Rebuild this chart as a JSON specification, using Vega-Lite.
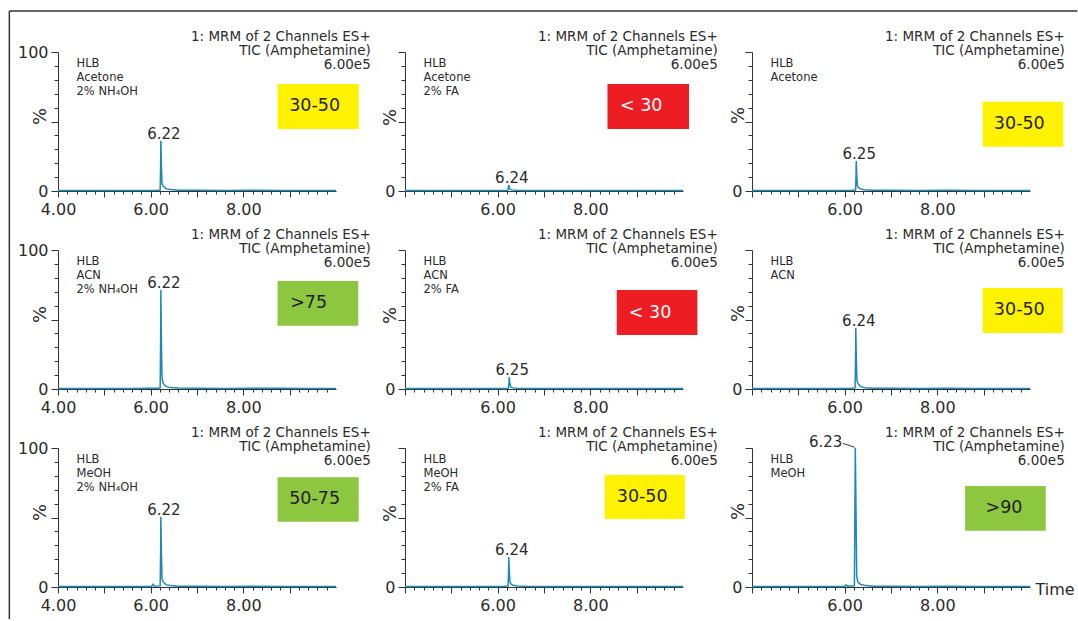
{
  "$schema": "https://vega.github.io/schema/vega-lite/v6.json",
  "background": "white",
  "padding": {"left": 8, "top": 10, "right": 0, "bottom": 0},
  "bounds": "flush",
  "columns": 3,
  "spacing": {"row": 59, "column": 69},
  "config": {
    "font": "DejaVu Sans",
    "view": {"stroke": null},
    "axis": {
      "grid": false, "domainColor": "#333333", "domainWidth": 1, "tickColor": "#333333", "tickWidth": 1,
      "labelFont": "DejaVu Sans", "labelFontSize": 16, "labelColor": "#2b2b2b", "labelFlush": false, "labelOverlap": false,
      "titleFont": "DejaVu Sans", "titleFontWeight": "normal", "titleColor": "#2b2b2b", "titleFontSize": 18
    },
    "text": {"font": "DejaVu Sans", "color": "#2b2b2b"}
  },
  "datasets": {
    "trace": [
      {"p":1,"t":4.00,"v":0.4},{"p":1,"t":4.40,"v":0.3},{"p":1,"t":4.80,"v":0.4},{"p":1,"t":5.20,"v":0.3},{"p":1,"t":5.60,"v":0.4},{"p":1,"t":5.95,"v":0.4},{"p":1,"t":6.15,"v":0.5},{"p":1,"t":6.205,"v":0.7},{"p":1,"t":6.215,"v":18},{"p":1,"t":6.22,"v":36.2},{"p":1,"t":6.23,"v":20},{"p":1,"t":6.245,"v":5},{"p":1,"t":6.27,"v":3.5},{"p":1,"t":6.30,"v":2.6},{"p":1,"t":6.34,"v":1.5},{"p":1,"t":6.42,"v":1.0},{"p":1,"t":6.60,"v":0.6},{"p":1,"t":7.00,"v":0.5},{"p":1,"t":7.60,"v":0.4},{"p":1,"t":8.20,"v":0.5},{"p":1,"t":8.80,"v":0.4},{"p":1,"t":9.40,"v":0.4},{"p":1,"t":10.00,"v":0.4},
      {"p":2,"t":4.00,"v":0.4},{"p":2,"t":4.40,"v":0.3},{"p":2,"t":4.80,"v":0.4},{"p":2,"t":5.20,"v":0.3},{"p":2,"t":5.60,"v":0.4},{"p":2,"t":5.95,"v":0.4},{"p":2,"t":6.15,"v":0.4},{"p":2,"t":6.22,"v":0.6},{"p":2,"t":6.24,"v":4.3},{"p":2,"t":6.26,"v":1.6},{"p":2,"t":6.30,"v":0.8},{"p":2,"t":6.40,"v":0.5},{"p":2,"t":6.60,"v":0.4},{"p":2,"t":7.00,"v":0.4},{"p":2,"t":7.60,"v":0.4},{"p":2,"t":8.20,"v":0.4},{"p":2,"t":8.80,"v":0.4},{"p":2,"t":9.40,"v":0.4},{"p":2,"t":10.00,"v":0.4},
      {"p":3,"t":4.00,"v":0.4},{"p":3,"t":4.40,"v":0.3},{"p":3,"t":4.80,"v":0.4},{"p":3,"t":5.20,"v":0.3},{"p":3,"t":5.60,"v":0.4},{"p":3,"t":5.95,"v":0.4},{"p":3,"t":6.15,"v":0.5},{"p":3,"t":6.235,"v":0.7},{"p":3,"t":6.245,"v":11},{"p":3,"t":6.25,"v":21.6},{"p":3,"t":6.26,"v":12},{"p":3,"t":6.275,"v":3.5},{"p":3,"t":6.30,"v":2.4},{"p":3,"t":6.34,"v":1.5},{"p":3,"t":6.42,"v":0.9},{"p":3,"t":6.60,"v":0.6},{"p":3,"t":7.00,"v":0.5},{"p":3,"t":7.60,"v":0.4},{"p":3,"t":8.20,"v":0.5},{"p":3,"t":8.80,"v":0.4},{"p":3,"t":9.40,"v":0.4},{"p":3,"t":10.00,"v":0.4},
      {"p":4,"t":4.00,"v":0.4},{"p":4,"t":4.40,"v":0.3},{"p":4,"t":4.80,"v":0.4},{"p":4,"t":5.20,"v":0.3},{"p":4,"t":5.60,"v":0.4},{"p":4,"t":5.95,"v":0.5},{"p":4,"t":6.15,"v":0.6},{"p":4,"t":6.205,"v":0.9},{"p":4,"t":6.215,"v":35},{"p":4,"t":6.22,"v":71.2},{"p":4,"t":6.23,"v":38},{"p":4,"t":6.245,"v":8},{"p":4,"t":6.27,"v":4.2},{"p":4,"t":6.30,"v":2.8},{"p":4,"t":6.34,"v":1.7},{"p":4,"t":6.42,"v":1.0},{"p":4,"t":6.60,"v":0.7},{"p":4,"t":7.00,"v":0.5},{"p":4,"t":7.60,"v":0.4},{"p":4,"t":8.20,"v":0.5},{"p":4,"t":8.80,"v":0.6},{"p":4,"t":9.40,"v":0.4},{"p":4,"t":10.00,"v":0.4},
      {"p":5,"t":4.00,"v":0.4},{"p":5,"t":4.40,"v":0.3},{"p":5,"t":4.80,"v":0.4},{"p":5,"t":5.20,"v":0.3},{"p":5,"t":5.60,"v":0.4},{"p":5,"t":5.95,"v":0.4},{"p":5,"t":6.15,"v":0.4},{"p":5,"t":6.23,"v":0.6},{"p":5,"t":6.245,"v":4.5},{"p":5,"t":6.25,"v":8.6},{"p":5,"t":6.26,"v":4.5},{"p":5,"t":6.28,"v":1.4},{"p":5,"t":6.32,"v":0.8},{"p":5,"t":6.42,"v":0.5},{"p":5,"t":6.60,"v":0.4},{"p":5,"t":7.00,"v":0.4},{"p":5,"t":7.60,"v":0.4},{"p":5,"t":8.20,"v":0.4},{"p":5,"t":8.80,"v":0.4},{"p":5,"t":9.40,"v":0.4},{"p":5,"t":10.00,"v":0.4},
      {"p":6,"t":4.00,"v":0.4},{"p":6,"t":4.40,"v":0.3},{"p":6,"t":4.80,"v":0.4},{"p":6,"t":5.20,"v":0.3},{"p":6,"t":5.60,"v":0.4},{"p":6,"t":5.95,"v":0.4},{"p":6,"t":6.15,"v":0.5},{"p":6,"t":6.225,"v":0.8},{"p":6,"t":6.235,"v":22},{"p":6,"t":6.24,"v":43.9},{"p":6,"t":6.25,"v":24},{"p":6,"t":6.265,"v":6},{"p":6,"t":6.29,"v":3.8},{"p":6,"t":6.32,"v":2.5},{"p":6,"t":6.36,"v":1.5},{"p":6,"t":6.44,"v":0.9},{"p":6,"t":6.60,"v":0.6},{"p":6,"t":7.00,"v":0.5},{"p":6,"t":7.60,"v":0.4},{"p":6,"t":8.20,"v":0.5},{"p":6,"t":8.80,"v":0.4},{"p":6,"t":9.40,"v":0.4},{"p":6,"t":10.00,"v":0.4},
      {"p":7,"t":4.00,"v":0.4},{"p":7,"t":4.40,"v":0.3},{"p":7,"t":4.80,"v":0.4},{"p":7,"t":5.20,"v":0.3},{"p":7,"t":5.60,"v":0.4},{"p":7,"t":5.95,"v":0.4},{"p":7,"t":6.02,"v":0.6},{"p":7,"t":6.05,"v":2.0},{"p":7,"t":6.08,"v":0.6},{"p":7,"t":6.205,"v":0.8},{"p":7,"t":6.215,"v":25},{"p":7,"t":6.22,"v":50.6},{"p":7,"t":6.23,"v":27},{"p":7,"t":6.245,"v":6},{"p":7,"t":6.27,"v":3.8},{"p":7,"t":6.30,"v":2.6},{"p":7,"t":6.34,"v":1.5},{"p":7,"t":6.42,"v":1.0},{"p":7,"t":6.60,"v":0.6},{"p":7,"t":7.00,"v":0.5},{"p":7,"t":7.60,"v":0.4},{"p":7,"t":8.20,"v":0.5},{"p":7,"t":8.80,"v":0.4},{"p":7,"t":9.40,"v":0.4},{"p":7,"t":10.00,"v":0.4},
      {"p":8,"t":4.00,"v":0.4},{"p":8,"t":4.40,"v":0.3},{"p":8,"t":4.80,"v":0.4},{"p":8,"t":5.20,"v":0.3},{"p":8,"t":5.60,"v":0.4},{"p":8,"t":5.95,"v":0.4},{"p":8,"t":6.15,"v":0.5},{"p":8,"t":6.225,"v":0.7},{"p":8,"t":6.235,"v":11},{"p":8,"t":6.24,"v":21.6},{"p":8,"t":6.25,"v":12},{"p":8,"t":6.265,"v":3.5},{"p":8,"t":6.29,"v":2.0},{"p":8,"t":6.33,"v":1.2},{"p":8,"t":6.42,"v":0.8},{"p":8,"t":6.60,"v":0.5},{"p":8,"t":7.00,"v":0.4},{"p":8,"t":7.60,"v":0.4},{"p":8,"t":8.20,"v":0.4},{"p":8,"t":8.80,"v":0.4},{"p":8,"t":9.40,"v":0.4},{"p":8,"t":10.00,"v":0.4},
      {"p":9,"t":4.00,"v":0.4},{"p":9,"t":4.40,"v":0.3},{"p":9,"t":4.80,"v":0.4},{"p":9,"t":5.20,"v":0.3},{"p":9,"t":5.60,"v":0.4},{"p":9,"t":5.95,"v":0.4},{"p":9,"t":6.00,"v":0.6},{"p":9,"t":6.03,"v":1.5},{"p":9,"t":6.06,"v":0.6},{"p":9,"t":6.21,"v":0.9},{"p":9,"t":6.22,"v":50},{"p":9,"t":6.23,"v":100},{"p":9,"t":6.245,"v":55},{"p":9,"t":6.26,"v":8},{"p":9,"t":6.28,"v":4.2},{"p":9,"t":6.31,"v":2.8},{"p":9,"t":6.35,"v":1.8},{"p":9,"t":6.45,"v":1.0},{"p":9,"t":6.60,"v":0.6},{"p":9,"t":7.00,"v":0.5},{"p":9,"t":7.60,"v":0.4},{"p":9,"t":8.20,"v":0.5},{"p":9,"t":8.80,"v":0.4},{"p":9,"t":9.40,"v":0.4},{"p":9,"t":10.00,"v":0.4}
    ],
    "peaks": [
      {"p":1,"t":6.22,"v":36.2,"label":"6.22"},
      {"p":2,"t":6.24,"v":4.3,"label":"6.24"},
      {"p":3,"t":6.25,"v":21.6,"label":"6.25"},
      {"p":4,"t":6.22,"v":71.2,"label":"6.22"},
      {"p":5,"t":6.25,"v":8.6,"label":"6.25"},
      {"p":6,"t":6.24,"v":43.9,"label":"6.24"},
      {"p":7,"t":6.22,"v":50.6,"label":"6.22"},
      {"p":8,"t":6.24,"v":21.6,"label":"6.24"},
      {"p":9,"t":6.23,"v":100,"label":"6.23"}
    ],
    "info": [
      {"p":1,"sample":["HLB","Acetone","2% NH₄OH"],"header":["1: MRM of 2 Channels ES+","TIC (Amphetamine)","6.00e5"]},
      {"p":2,"sample":["HLB","Acetone"," 2% FA"],"header":["1: MRM of 2 Channels ES+","TIC (Amphetamine)","6.00e5"]},
      {"p":3,"sample":["HLB","Acetone"],"header":["1: MRM of 2 Channels ES+","TIC (Amphetamine)","6.00e5"]},
      {"p":4,"sample":["HLB","ACN","2% NH₄OH"],"header":["1: MRM of 2 Channels ES+","TIC (Amphetamine)","6.00e5"]},
      {"p":5,"sample":["HLB","ACN"," 2% FA"],"header":["1: MRM of 2 Channels ES+","TIC (Amphetamine)","6.00e5"]},
      {"p":6,"sample":["HLB","ACN"],"header":["1: MRM of 2 Channels ES+","TIC (Amphetamine)","6.00e5"]},
      {"p":7,"sample":["HLB","MeOH","2% NH₄OH"],"header":["1: MRM of 2 Channels ES+","TIC (Amphetamine)","6.00e5"]},
      {"p":8,"sample":["HLB","MeOH","2% FA"],"header":["1: MRM of 2 Channels ES+","TIC (Amphetamine)","6.00e5"]},
      {"p":9,"sample":["HLB","MeOH"],"header":["1: MRM of 2 Channels ES+","TIC (Amphetamine)","6.00e5"]}
    ],
    "boxes": [
      {"p":1,"rng":"30-50","x1":8.74,"x2":10.49,"y1":77.0,"y2":44.6,"ym":60.8,"tx":8.99},
      {"p":2,"rng":"< 30","x1":8.37,"x2":10.13,"y1":77.0,"y2":44.6,"ym":60.8,"tx":8.64},
      {"p":3,"rng":"30-50","x1":8.98,"x2":10.72,"y1":64.2,"y2":31.9,"ym":48.1,"tx":9.22},
      {"p":4,"rng":">75","x1":8.74,"x2":10.48,"y1":77.7,"y2":45.5,"ym":61.6,"tx":9.01},
      {"p":5,"rng":"< 30","x1":8.57,"x2":10.31,"y1":71.2,"y2":38.8,"ym":55.0,"tx":8.83},
      {"p":6,"rng":"30-50","x1":8.98,"x2":10.71,"y1":72.7,"y2":40.3,"ym":56.5,"tx":9.22},
      {"p":7,"rng":"50-75","x1":8.74,"x2":10.49,"y1":78.9,"y2":47.0,"ym":63.0,"tx":8.99},
      {"p":8,"rng":"30-50","x1":8.31,"x2":10.04,"y1":80.6,"y2":48.9,"ym":64.7,"tx":8.57},
      {"p":9,"rng":">90","x1":8.60,"x2":10.34,"y1":72.7,"y2":40.5,"ym":56.6,"tx":9.04}
    ]
  },
  "concat": [
    {
      "width": 278, "height": 139,
      "resolve": {"axis": {"x": "independent", "y": "independent"}},
      "layer": [
        {"data": {"values": [{}]}, "mark": {"type": "rule", "color": "#333333", "strokeWidth": 1.5},
         "encoding": {"x": {"datum": 2.95, "axis": null}, "x2": {"datum": 26.0}, "y": {"datum": 129.5, "axis": null}}},
        {"data": {"values": [{}]}, "mark": {"type": "rule", "color": "#333333", "strokeWidth": 1.5},
         "encoding": {"x": {"datum": 2.95, "axis": null}, "y": {"datum": 129.5, "axis": null}, "y2": {"datum": -308}}},
        {"data": {"name": "trace"}, "transform": [{"filter": "datum.p === 1"}],
         "mark": {"type": "line", "color": "#1b8ab8", "strokeWidth": 1.5},
         "encoding": {
           "x": {"field": "t", "type": "quantitative", "scale": {"domain": [4, 10], "nice": false, "zero": false},
                 "axis": {"orient": "bottom", "values": [4,5,6,7,8,9], "tickSize": 6, "labelPadding": 4, "title": null, "labelExpr": "datum.value % 2 === 0 ? format(datum.value, '.2f') : ''"}},
           "y": {"field": "v", "type": "quantitative", "scale": {"domain": [0, 100], "nice": false, "zero": false},
                 "axis": {"orient": "left", "values": [0,50,100], "tickSize": 7, "labelPadding": 3, "labelExpr": "datum.value === 50 ? '' : datum.label", "title": "%", "titleAngle": 270, "titleAlign": "center", "titleBaseline": "middle", "titleX": -18, "titleY": 64}}}},
        {"data": {"name": "peaks"}, "transform": [{"filter": "datum.p === 1"}],
         "mark": {"type": "text", "fontSize": 15, "baseline": "alphabetic", "dx": 3, "dy": -2},
         "encoding": {
           "x": {"field": "t", "type": "quantitative", "axis": {"orient": "bottom", "values": [4.2,4.4,4.6,4.8,5.2,5.4,5.6,5.8,6.2,6.4,6.6,6.8,7.2,7.4,7.6,7.8,8.2,8.4,8.6,8.8,9.2,9.4,9.6,9.8], "tickSize": 3, "labels": false, "domain": false, "title": null}},
           "y": {"field": "v", "type": "quantitative", "axis": {"orient": "left", "values": [10,20,30,40,60,70,80,90], "tickSize": 4, "labels": false, "domain": false, "title": null}},
           "text": {"field": "label"}}},
        {"data": {"name": "info"}, "transform": [{"filter": "datum.p === 1"}],
         "mark": {"type": "text", "align": "left", "baseline": "top", "fontSize": 11.5, "lineHeight": 14},
         "encoding": {"x": {"datum": 4.4, "axis": null}, "y": {"datum": 95.9, "axis": null}, "text": {"field": "sample"}}},
        {"data": {"name": "info"}, "transform": [{"filter": "datum.p === 1"}],
         "mark": {"type": "text", "align": "right", "baseline": "top", "fontSize": 13.5, "lineHeight": 14.2},
         "encoding": {"x": {"datum": 10.75, "axis": null}, "y": {"datum": 116.1, "axis": null}, "text": {"field": "header"}}},
        {"data": {"name": "boxes"}, "transform": [{"filter": "datum.p === 1"}],
         "mark": {"type": "rect"},
         "encoding": {"x": {"field": "x1", "type": "quantitative", "axis": null}, "x2": {"field": "x2"}, "y": {"field": "y1", "type": "quantitative", "axis": null}, "y2": {"field": "y2"},
           "fill": {"field": "rng", "type": "nominal", "legend": null, "scale": {"domain": ["< 30","30-50","50-75",">75",">90"], "range": ["#ee1d23","#fff200","#8dc63f","#8dc63f","#8dc63f"]}}}},
        {"data": {"name": "boxes"}, "transform": [{"filter": "datum.p === 1"}],
         "mark": {"type": "text", "align": "left", "baseline": "middle", "fontSize": 17.5},
         "encoding": {"x": {"field": "tx", "type": "quantitative", "axis": null}, "y": {"field": "ym", "type": "quantitative", "axis": null}, "text": {"field": "rng"},
           "color": {"condition": {"test": "datum.rng === '< 30'", "value": "#ffffff"}, "value": "#231f20"}}}
      ]
    },
    {
      "width": 278, "height": 139,
      "resolve": {"axis": {"x": "independent", "y": "independent"}},
      "layer": [
        {"data": {"name": "trace"}, "transform": [{"filter": "datum.p === 2"}],
         "mark": {"type": "line", "color": "#1b8ab8", "strokeWidth": 1.5},
         "encoding": {
           "x": {"field": "t", "type": "quantitative", "scale": {"domain": [4, 10], "nice": false, "zero": false},
                 "axis": {"orient": "bottom", "values": [4,5,6,7,8,9], "tickSize": 6, "labelPadding": 4, "title": null, "labelExpr": "datum.value === 6 || datum.value === 8 ? format(datum.value, '.2f') : ''"}},
           "y": {"field": "v", "type": "quantitative", "scale": {"domain": [0, 100], "nice": false, "zero": false},
                 "axis": {"orient": "left", "values": [0,50,100], "tickSize": 7, "labelPadding": 3, "labelExpr": "datum.value === 0 ? '0' : ''", "title": "%", "titleAngle": 270, "titleAlign": "center", "titleBaseline": "middle", "titleX": -15, "titleY": 65}}}},
        {"data": {"name": "peaks"}, "transform": [{"filter": "datum.p === 2"}],
         "mark": {"type": "text", "fontSize": 15, "baseline": "alphabetic", "dx": 3, "dy": -2},
         "encoding": {
           "x": {"field": "t", "type": "quantitative", "axis": {"orient": "bottom", "values": [4.2,4.4,4.6,4.8,5.2,5.4,5.6,5.8,6.2,6.4,6.6,6.8,7.2,7.4,7.6,7.8,8.2,8.4,8.6,8.8,9.2,9.4,9.6,9.8], "tickSize": 3, "labels": false, "domain": false, "title": null}},
           "y": {"field": "v", "type": "quantitative", "axis": {"orient": "left", "values": [10,20,30,40,60,70,80,90], "tickSize": 4, "labels": false, "domain": false, "title": null}},
           "text": {"field": "label"}}},
        {"data": {"name": "info"}, "transform": [{"filter": "datum.p === 2"}],
         "mark": {"type": "text", "align": "left", "baseline": "top", "fontSize": 11.5, "lineHeight": 14},
         "encoding": {"x": {"datum": 4.4, "axis": null}, "y": {"datum": 95.9, "axis": null}, "text": {"field": "sample"}}},
        {"data": {"name": "info"}, "transform": [{"filter": "datum.p === 2"}],
         "mark": {"type": "text", "align": "right", "baseline": "top", "fontSize": 13.5, "lineHeight": 14.2},
         "encoding": {"x": {"datum": 10.75, "axis": null}, "y": {"datum": 116.1, "axis": null}, "text": {"field": "header"}}},
        {"data": {"name": "boxes"}, "transform": [{"filter": "datum.p === 2"}],
         "mark": {"type": "rect"},
         "encoding": {"x": {"field": "x1", "type": "quantitative", "axis": null}, "x2": {"field": "x2"}, "y": {"field": "y1", "type": "quantitative", "axis": null}, "y2": {"field": "y2"},
           "fill": {"field": "rng", "type": "nominal", "legend": null, "scale": {"domain": ["< 30","30-50","50-75",">75",">90"], "range": ["#ee1d23","#fff200","#8dc63f","#8dc63f","#8dc63f"]}}}},
        {"data": {"name": "boxes"}, "transform": [{"filter": "datum.p === 2"}],
         "mark": {"type": "text", "align": "left", "baseline": "middle", "fontSize": 17.5},
         "encoding": {"x": {"field": "tx", "type": "quantitative", "axis": null}, "y": {"field": "ym", "type": "quantitative", "axis": null}, "text": {"field": "rng"},
           "color": {"condition": {"test": "datum.rng === '< 30'", "value": "#ffffff"}, "value": "#231f20"}}}
      ]
    },
    {
      "width": 278, "height": 139,
      "resolve": {"axis": {"x": "independent", "y": "independent"}},
      "layer": [
        {"data": {"name": "trace"}, "transform": [{"filter": "datum.p === 3"}],
         "mark": {"type": "line", "color": "#1b8ab8", "strokeWidth": 1.5},
         "encoding": {
           "x": {"field": "t", "type": "quantitative", "scale": {"domain": [4, 10], "nice": false, "zero": false},
                 "axis": {"orient": "bottom", "values": [4,5,6,7,8,9], "tickSize": 6, "labelPadding": 4, "title": null, "labelExpr": "datum.value === 6 || datum.value === 8 ? format(datum.value, '.2f') : ''"}},
           "y": {"field": "v", "type": "quantitative", "scale": {"domain": [0, 100], "nice": false, "zero": false},
                 "axis": {"orient": "left", "values": [0,50,100], "tickSize": 7, "labelPadding": 3, "labelExpr": "datum.value === 0 ? '0' : ''", "title": "%", "titleAngle": 270, "titleAlign": "center", "titleBaseline": "middle", "titleX": -14, "titleY": 63}}}},
        {"data": {"name": "peaks"}, "transform": [{"filter": "datum.p === 3"}],
         "mark": {"type": "text", "fontSize": 15, "baseline": "alphabetic", "dx": 3, "dy": -2},
         "encoding": {
           "x": {"field": "t", "type": "quantitative", "axis": {"orient": "bottom", "values": [4.2,4.4,4.6,4.8,5.2,5.4,5.6,5.8,6.2,6.4,6.6,6.8,7.2,7.4,7.6,7.8,8.2,8.4,8.6,8.8,9.2,9.4,9.6,9.8], "tickSize": 3, "labels": false, "domain": false, "title": null}},
           "y": {"field": "v", "type": "quantitative", "axis": {"orient": "left", "values": [10,20,30,40,60,70,80,90], "tickSize": 4, "labels": false, "domain": false, "title": null}},
           "text": {"field": "label"}}},
        {"data": {"name": "info"}, "transform": [{"filter": "datum.p === 3"}],
         "mark": {"type": "text", "align": "left", "baseline": "top", "fontSize": 11.5, "lineHeight": 14},
         "encoding": {"x": {"datum": 4.4, "axis": null}, "y": {"datum": 95.9, "axis": null}, "text": {"field": "sample"}}},
        {"data": {"name": "info"}, "transform": [{"filter": "datum.p === 3"}],
         "mark": {"type": "text", "align": "right", "baseline": "top", "fontSize": 13.5, "lineHeight": 14.2},
         "encoding": {"x": {"datum": 10.75, "axis": null}, "y": {"datum": 116.1, "axis": null}, "text": {"field": "header"}}},
        {"data": {"name": "boxes"}, "transform": [{"filter": "datum.p === 3"}],
         "mark": {"type": "rect"},
         "encoding": {"x": {"field": "x1", "type": "quantitative", "axis": null}, "x2": {"field": "x2"}, "y": {"field": "y1", "type": "quantitative", "axis": null}, "y2": {"field": "y2"},
           "fill": {"field": "rng", "type": "nominal", "legend": null, "scale": {"domain": ["< 30","30-50","50-75",">75",">90"], "range": ["#ee1d23","#fff200","#8dc63f","#8dc63f","#8dc63f"]}}}},
        {"data": {"name": "boxes"}, "transform": [{"filter": "datum.p === 3"}],
         "mark": {"type": "text", "align": "left", "baseline": "middle", "fontSize": 17.5},
         "encoding": {"x": {"field": "tx", "type": "quantitative", "axis": null}, "y": {"field": "ym", "type": "quantitative", "axis": null}, "text": {"field": "rng"},
           "color": {"condition": {"test": "datum.rng === '< 30'", "value": "#ffffff"}, "value": "#231f20"}}}
      ]
    },
    {
      "width": 278, "height": 139,
      "resolve": {"axis": {"x": "independent", "y": "independent"}},
      "layer": [
        {"data": {"name": "trace"}, "transform": [{"filter": "datum.p === 4"}],
         "mark": {"type": "line", "color": "#1b8ab8", "strokeWidth": 1.5},
         "encoding": {
           "x": {"field": "t", "type": "quantitative", "scale": {"domain": [4, 10], "nice": false, "zero": false},
                 "axis": {"orient": "bottom", "values": [4,5,6,7,8,9], "tickSize": 6, "labelPadding": 4, "title": null, "labelExpr": "datum.value % 2 === 0 ? format(datum.value, '.2f') : ''"}},
           "y": {"field": "v", "type": "quantitative", "scale": {"domain": [0, 100], "nice": false, "zero": false},
                 "axis": {"orient": "left", "values": [0,50,100], "tickSize": 7, "labelPadding": 3, "labelExpr": "datum.value === 50 ? '' : datum.label", "title": "%", "titleAngle": 270, "titleAlign": "center", "titleBaseline": "middle", "titleX": -18, "titleY": 64}}}},
        {"data": {"name": "peaks"}, "transform": [{"filter": "datum.p === 4"}],
         "mark": {"type": "text", "fontSize": 15, "baseline": "alphabetic", "dx": 3, "dy": -2},
         "encoding": {
           "x": {"field": "t", "type": "quantitative", "axis": {"orient": "bottom", "values": [4.2,4.4,4.6,4.8,5.2,5.4,5.6,5.8,6.2,6.4,6.6,6.8,7.2,7.4,7.6,7.8,8.2,8.4,8.6,8.8,9.2,9.4,9.6,9.8], "tickSize": 3, "labels": false, "domain": false, "title": null}},
           "y": {"field": "v", "type": "quantitative", "axis": {"orient": "left", "values": [10,20,30,40,60,70,80,90], "tickSize": 4, "labels": false, "domain": false, "title": null}},
           "text": {"field": "label"}}},
        {"data": {"name": "info"}, "transform": [{"filter": "datum.p === 4"}],
         "mark": {"type": "text", "align": "left", "baseline": "top", "fontSize": 11.5, "lineHeight": 14},
         "encoding": {"x": {"datum": 4.4, "axis": null}, "y": {"datum": 95.9, "axis": null}, "text": {"field": "sample"}}},
        {"data": {"name": "info"}, "transform": [{"filter": "datum.p === 4"}],
         "mark": {"type": "text", "align": "right", "baseline": "top", "fontSize": 13.5, "lineHeight": 14.2},
         "encoding": {"x": {"datum": 10.75, "axis": null}, "y": {"datum": 116.1, "axis": null}, "text": {"field": "header"}}},
        {"data": {"name": "boxes"}, "transform": [{"filter": "datum.p === 4"}],
         "mark": {"type": "rect"},
         "encoding": {"x": {"field": "x1", "type": "quantitative", "axis": null}, "x2": {"field": "x2"}, "y": {"field": "y1", "type": "quantitative", "axis": null}, "y2": {"field": "y2"},
           "fill": {"field": "rng", "type": "nominal", "legend": null, "scale": {"domain": ["< 30","30-50","50-75",">75",">90"], "range": ["#ee1d23","#fff200","#8dc63f","#8dc63f","#8dc63f"]}}}},
        {"data": {"name": "boxes"}, "transform": [{"filter": "datum.p === 4"}],
         "mark": {"type": "text", "align": "left", "baseline": "middle", "fontSize": 17.5},
         "encoding": {"x": {"field": "tx", "type": "quantitative", "axis": null}, "y": {"field": "ym", "type": "quantitative", "axis": null}, "text": {"field": "rng"},
           "color": {"condition": {"test": "datum.rng === '< 30'", "value": "#ffffff"}, "value": "#231f20"}}}
      ]
    },
    {
      "width": 278, "height": 139,
      "resolve": {"axis": {"x": "independent", "y": "independent"}},
      "layer": [
        {"data": {"name": "trace"}, "transform": [{"filter": "datum.p === 5"}],
         "mark": {"type": "line", "color": "#1b8ab8", "strokeWidth": 1.5},
         "encoding": {
           "x": {"field": "t", "type": "quantitative", "scale": {"domain": [4, 10], "nice": false, "zero": false},
                 "axis": {"orient": "bottom", "values": [4,5,6,7,8,9], "tickSize": 6, "labelPadding": 4, "title": null, "labelExpr": "datum.value === 6 || datum.value === 8 ? format(datum.value, '.2f') : ''"}},
           "y": {"field": "v", "type": "quantitative", "scale": {"domain": [0, 100], "nice": false, "zero": false},
                 "axis": {"orient": "left", "values": [0,50,100], "tickSize": 7, "labelPadding": 3, "labelExpr": "datum.value === 0 ? '0' : ''", "title": "%", "titleAngle": 270, "titleAlign": "center", "titleBaseline": "middle", "titleX": -15, "titleY": 65}}}},
        {"data": {"name": "peaks"}, "transform": [{"filter": "datum.p === 5"}],
         "mark": {"type": "text", "fontSize": 15, "baseline": "alphabetic", "dx": 3, "dy": -2},
         "encoding": {
           "x": {"field": "t", "type": "quantitative", "axis": {"orient": "bottom", "values": [4.2,4.4,4.6,4.8,5.2,5.4,5.6,5.8,6.2,6.4,6.6,6.8,7.2,7.4,7.6,7.8,8.2,8.4,8.6,8.8,9.2,9.4,9.6,9.8], "tickSize": 3, "labels": false, "domain": false, "title": null}},
           "y": {"field": "v", "type": "quantitative", "axis": {"orient": "left", "values": [10,20,30,40,60,70,80,90], "tickSize": 4, "labels": false, "domain": false, "title": null}},
           "text": {"field": "label"}}},
        {"data": {"name": "info"}, "transform": [{"filter": "datum.p === 5"}],
         "mark": {"type": "text", "align": "left", "baseline": "top", "fontSize": 11.5, "lineHeight": 14},
         "encoding": {"x": {"datum": 4.4, "axis": null}, "y": {"datum": 95.9, "axis": null}, "text": {"field": "sample"}}},
        {"data": {"name": "info"}, "transform": [{"filter": "datum.p === 5"}],
         "mark": {"type": "text", "align": "right", "baseline": "top", "fontSize": 13.5, "lineHeight": 14.2},
         "encoding": {"x": {"datum": 10.75, "axis": null}, "y": {"datum": 116.1, "axis": null}, "text": {"field": "header"}}},
        {"data": {"name": "boxes"}, "transform": [{"filter": "datum.p === 5"}],
         "mark": {"type": "rect"},
         "encoding": {"x": {"field": "x1", "type": "quantitative", "axis": null}, "x2": {"field": "x2"}, "y": {"field": "y1", "type": "quantitative", "axis": null}, "y2": {"field": "y2"},
           "fill": {"field": "rng", "type": "nominal", "legend": null, "scale": {"domain": ["< 30","30-50","50-75",">75",">90"], "range": ["#ee1d23","#fff200","#8dc63f","#8dc63f","#8dc63f"]}}}},
        {"data": {"name": "boxes"}, "transform": [{"filter": "datum.p === 5"}],
         "mark": {"type": "text", "align": "left", "baseline": "middle", "fontSize": 17.5},
         "encoding": {"x": {"field": "tx", "type": "quantitative", "axis": null}, "y": {"field": "ym", "type": "quantitative", "axis": null}, "text": {"field": "rng"},
           "color": {"condition": {"test": "datum.rng === '< 30'", "value": "#ffffff"}, "value": "#231f20"}}}
      ]
    },
    {
      "width": 278, "height": 139,
      "resolve": {"axis": {"x": "independent", "y": "independent"}},
      "layer": [
        {"data": {"name": "trace"}, "transform": [{"filter": "datum.p === 6"}],
         "mark": {"type": "line", "color": "#1b8ab8", "strokeWidth": 1.5},
         "encoding": {
           "x": {"field": "t", "type": "quantitative", "scale": {"domain": [4, 10], "nice": false, "zero": false},
                 "axis": {"orient": "bottom", "values": [4,5,6,7,8,9], "tickSize": 6, "labelPadding": 4, "title": null, "labelExpr": "datum.value === 6 || datum.value === 8 ? format(datum.value, '.2f') : ''"}},
           "y": {"field": "v", "type": "quantitative", "scale": {"domain": [0, 100], "nice": false, "zero": false},
                 "axis": {"orient": "left", "values": [0,50,100], "tickSize": 7, "labelPadding": 3, "labelExpr": "datum.value === 0 ? '0' : ''", "title": "%", "titleAngle": 270, "titleAlign": "center", "titleBaseline": "middle", "titleX": -14, "titleY": 63}}}},
        {"data": {"name": "peaks"}, "transform": [{"filter": "datum.p === 6"}],
         "mark": {"type": "text", "fontSize": 15, "baseline": "alphabetic", "dx": 3, "dy": -2},
         "encoding": {
           "x": {"field": "t", "type": "quantitative", "axis": {"orient": "bottom", "values": [4.2,4.4,4.6,4.8,5.2,5.4,5.6,5.8,6.2,6.4,6.6,6.8,7.2,7.4,7.6,7.8,8.2,8.4,8.6,8.8,9.2,9.4,9.6,9.8], "tickSize": 3, "labels": false, "domain": false, "title": null}},
           "y": {"field": "v", "type": "quantitative", "axis": {"orient": "left", "values": [10,20,30,40,60,70,80,90], "tickSize": 4, "labels": false, "domain": false, "title": null}},
           "text": {"field": "label"}}},
        {"data": {"name": "info"}, "transform": [{"filter": "datum.p === 6"}],
         "mark": {"type": "text", "align": "left", "baseline": "top", "fontSize": 11.5, "lineHeight": 14},
         "encoding": {"x": {"datum": 4.4, "axis": null}, "y": {"datum": 95.9, "axis": null}, "text": {"field": "sample"}}},
        {"data": {"name": "info"}, "transform": [{"filter": "datum.p === 6"}],
         "mark": {"type": "text", "align": "right", "baseline": "top", "fontSize": 13.5, "lineHeight": 14.2},
         "encoding": {"x": {"datum": 10.75, "axis": null}, "y": {"datum": 116.1, "axis": null}, "text": {"field": "header"}}},
        {"data": {"name": "boxes"}, "transform": [{"filter": "datum.p === 6"}],
         "mark": {"type": "rect"},
         "encoding": {"x": {"field": "x1", "type": "quantitative", "axis": null}, "x2": {"field": "x2"}, "y": {"field": "y1", "type": "quantitative", "axis": null}, "y2": {"field": "y2"},
           "fill": {"field": "rng", "type": "nominal", "legend": null, "scale": {"domain": ["< 30","30-50","50-75",">75",">90"], "range": ["#ee1d23","#fff200","#8dc63f","#8dc63f","#8dc63f"]}}}},
        {"data": {"name": "boxes"}, "transform": [{"filter": "datum.p === 6"}],
         "mark": {"type": "text", "align": "left", "baseline": "middle", "fontSize": 17.5},
         "encoding": {"x": {"field": "tx", "type": "quantitative", "axis": null}, "y": {"field": "ym", "type": "quantitative", "axis": null}, "text": {"field": "rng"},
           "color": {"condition": {"test": "datum.rng === '< 30'", "value": "#ffffff"}, "value": "#231f20"}}}
      ]
    },
    {
      "width": 278, "height": 139,
      "resolve": {"axis": {"x": "independent", "y": "independent"}},
      "layer": [
        {"data": {"name": "trace"}, "transform": [{"filter": "datum.p === 7"}],
         "mark": {"type": "line", "color": "#1b8ab8", "strokeWidth": 1.5},
         "encoding": {
           "x": {"field": "t", "type": "quantitative", "scale": {"domain": [4, 10], "nice": false, "zero": false},
                 "axis": {"orient": "bottom", "values": [4,5,6,7,8,9], "tickSize": 6, "labelPadding": 4, "title": null, "labelExpr": "datum.value % 2 === 0 ? format(datum.value, '.2f') : ''"}},
           "y": {"field": "v", "type": "quantitative", "scale": {"domain": [0, 100], "nice": false, "zero": false},
                 "axis": {"orient": "left", "values": [0,50,100], "tickSize": 7, "labelPadding": 3, "labelExpr": "datum.value === 50 ? '' : datum.label", "title": "%", "titleAngle": 270, "titleAlign": "center", "titleBaseline": "middle", "titleX": -18, "titleY": 64}}}},
        {"data": {"name": "peaks"}, "transform": [{"filter": "datum.p === 7"}],
         "mark": {"type": "text", "fontSize": 15, "baseline": "alphabetic", "dx": 3, "dy": -2},
         "encoding": {
           "x": {"field": "t", "type": "quantitative", "axis": {"orient": "bottom", "values": [4.2,4.4,4.6,4.8,5.2,5.4,5.6,5.8,6.2,6.4,6.6,6.8,7.2,7.4,7.6,7.8,8.2,8.4,8.6,8.8,9.2,9.4,9.6,9.8], "tickSize": 3, "labels": false, "domain": false, "title": null}},
           "y": {"field": "v", "type": "quantitative", "axis": {"orient": "left", "values": [10,20,30,40,60,70,80,90], "tickSize": 4, "labels": false, "domain": false, "title": null}},
           "text": {"field": "label"}}},
        {"data": {"name": "info"}, "transform": [{"filter": "datum.p === 7"}],
         "mark": {"type": "text", "align": "left", "baseline": "top", "fontSize": 11.5, "lineHeight": 14},
         "encoding": {"x": {"datum": 4.4, "axis": null}, "y": {"datum": 95.9, "axis": null}, "text": {"field": "sample"}}},
        {"data": {"name": "info"}, "transform": [{"filter": "datum.p === 7"}],
         "mark": {"type": "text", "align": "right", "baseline": "top", "fontSize": 13.5, "lineHeight": 14.2},
         "encoding": {"x": {"datum": 10.75, "axis": null}, "y": {"datum": 116.1, "axis": null}, "text": {"field": "header"}}},
        {"data": {"name": "boxes"}, "transform": [{"filter": "datum.p === 7"}],
         "mark": {"type": "rect"},
         "encoding": {"x": {"field": "x1", "type": "quantitative", "axis": null}, "x2": {"field": "x2"}, "y": {"field": "y1", "type": "quantitative", "axis": null}, "y2": {"field": "y2"},
           "fill": {"field": "rng", "type": "nominal", "legend": null, "scale": {"domain": ["< 30","30-50","50-75",">75",">90"], "range": ["#ee1d23","#fff200","#8dc63f","#8dc63f","#8dc63f"]}}}},
        {"data": {"name": "boxes"}, "transform": [{"filter": "datum.p === 7"}],
         "mark": {"type": "text", "align": "left", "baseline": "middle", "fontSize": 17.5},
         "encoding": {"x": {"field": "tx", "type": "quantitative", "axis": null}, "y": {"field": "ym", "type": "quantitative", "axis": null}, "text": {"field": "rng"},
           "color": {"condition": {"test": "datum.rng === '< 30'", "value": "#ffffff"}, "value": "#231f20"}}}
      ]
    },
    {
      "width": 278, "height": 139,
      "resolve": {"axis": {"x": "independent", "y": "independent"}},
      "layer": [
        {"data": {"name": "trace"}, "transform": [{"filter": "datum.p === 8"}],
         "mark": {"type": "line", "color": "#1b8ab8", "strokeWidth": 1.5},
         "encoding": {
           "x": {"field": "t", "type": "quantitative", "scale": {"domain": [4, 10], "nice": false, "zero": false},
                 "axis": {"orient": "bottom", "values": [4,5,6,7,8,9], "tickSize": 6, "labelPadding": 4, "title": null, "labelExpr": "datum.value === 6 || datum.value === 8 ? format(datum.value, '.2f') : ''"}},
           "y": {"field": "v", "type": "quantitative", "scale": {"domain": [0, 100], "nice": false, "zero": false},
                 "axis": {"orient": "left", "values": [0,50,100], "tickSize": 7, "labelPadding": 3, "labelExpr": "datum.value === 0 ? '0' : ''", "title": "%", "titleAngle": 270, "titleAlign": "center", "titleBaseline": "middle", "titleX": -15, "titleY": 65}}}},
        {"data": {"name": "peaks"}, "transform": [{"filter": "datum.p === 8"}],
         "mark": {"type": "text", "fontSize": 15, "baseline": "alphabetic", "dx": 3, "dy": -2},
         "encoding": {
           "x": {"field": "t", "type": "quantitative", "axis": {"orient": "bottom", "values": [4.2,4.4,4.6,4.8,5.2,5.4,5.6,5.8,6.2,6.4,6.6,6.8,7.2,7.4,7.6,7.8,8.2,8.4,8.6,8.8,9.2,9.4,9.6,9.8], "tickSize": 3, "labels": false, "domain": false, "title": null}},
           "y": {"field": "v", "type": "quantitative", "axis": {"orient": "left", "values": [10,20,30,40,60,70,80,90], "tickSize": 4, "labels": false, "domain": false, "title": null}},
           "text": {"field": "label"}}},
        {"data": {"name": "info"}, "transform": [{"filter": "datum.p === 8"}],
         "mark": {"type": "text", "align": "left", "baseline": "top", "fontSize": 11.5, "lineHeight": 14},
         "encoding": {"x": {"datum": 4.4, "axis": null}, "y": {"datum": 95.9, "axis": null}, "text": {"field": "sample"}}},
        {"data": {"name": "info"}, "transform": [{"filter": "datum.p === 8"}],
         "mark": {"type": "text", "align": "right", "baseline": "top", "fontSize": 13.5, "lineHeight": 14.2},
         "encoding": {"x": {"datum": 10.75, "axis": null}, "y": {"datum": 116.1, "axis": null}, "text": {"field": "header"}}},
        {"data": {"name": "boxes"}, "transform": [{"filter": "datum.p === 8"}],
         "mark": {"type": "rect"},
         "encoding": {"x": {"field": "x1", "type": "quantitative", "axis": null}, "x2": {"field": "x2"}, "y": {"field": "y1", "type": "quantitative", "axis": null}, "y2": {"field": "y2"},
           "fill": {"field": "rng", "type": "nominal", "legend": null, "scale": {"domain": ["< 30","30-50","50-75",">75",">90"], "range": ["#ee1d23","#fff200","#8dc63f","#8dc63f","#8dc63f"]}}}},
        {"data": {"name": "boxes"}, "transform": [{"filter": "datum.p === 8"}],
         "mark": {"type": "text", "align": "left", "baseline": "middle", "fontSize": 17.5},
         "encoding": {"x": {"field": "tx", "type": "quantitative", "axis": null}, "y": {"field": "ym", "type": "quantitative", "axis": null}, "text": {"field": "rng"},
           "color": {"condition": {"test": "datum.rng === '< 30'", "value": "#ffffff"}, "value": "#231f20"}}}
      ]
    },
    {
      "width": 278, "height": 139,
      "resolve": {"axis": {"x": "independent", "y": "independent"}},
      "layer": [
        {"data": {"name": "trace"}, "transform": [{"filter": "datum.p === 9"}],
         "mark": {"type": "line", "color": "#1b8ab8", "strokeWidth": 1.5},
         "encoding": {
           "x": {"field": "t", "type": "quantitative", "scale": {"domain": [4, 10], "nice": false, "zero": false},
                 "axis": {"orient": "bottom", "values": [4,5,6,7,8,9], "tickSize": 6, "labelPadding": 4, "labelExpr": "datum.value === 6 || datum.value === 8 ? format(datum.value, '.2f') : ''",
                          "title": "Time", "titleX": 283, "titleY": 2, "titleAlign": "left", "titleBaseline": "middle", "titleAngle": 0, "titleFontSize": 16}},
           "y": {"field": "v", "type": "quantitative", "scale": {"domain": [0, 100], "nice": false, "zero": false},
                 "axis": {"orient": "left", "values": [0,50,100], "tickSize": 7, "labelPadding": 3, "labelExpr": "datum.value === 0 ? '0' : ''", "title": "%", "titleAngle": 270, "titleAlign": "center", "titleBaseline": "middle", "titleX": -14, "titleY": 63}}}},
        {"data": {"name": "peaks"}, "transform": [{"filter": "datum.p === 9"}],
         "mark": {"type": "text", "fontSize": 15, "align": "right", "baseline": "alphabetic", "dx": -13, "dy": -1},
         "encoding": {
           "x": {"field": "t", "type": "quantitative", "axis": {"orient": "bottom", "values": [4.2,4.4,4.6,4.8,5.2,5.4,5.6,5.8,6.2,6.4,6.6,6.8,7.2,7.4,7.6,7.8,8.2,8.4,8.6,8.8,9.2,9.4,9.6,9.8], "tickSize": 3, "labels": false, "domain": false, "title": null}},
           "y": {"field": "v", "type": "quantitative", "axis": {"orient": "left", "values": [10,20,30,40,60,70,80,90], "tickSize": 4, "labels": false, "domain": false, "title": null}},
           "text": {"field": "label"}}},
        {"data": {"name": "peaks"}, "transform": [{"filter": "datum.p === 9"}],
         "mark": {"type": "rule", "color": "#333333", "strokeWidth": 1},
         "encoding": {"x": {"datum": 5.965, "axis": null}, "y": {"datum": 103.3, "axis": null}, "x2": {"datum": 6.215}, "y2": {"datum": 100.5}}},
        {"data": {"name": "info"}, "transform": [{"filter": "datum.p === 9"}],
         "mark": {"type": "text", "align": "left", "baseline": "top", "fontSize": 11.5, "lineHeight": 14},
         "encoding": {"x": {"datum": 4.4, "axis": null}, "y": {"datum": 95.9, "axis": null}, "text": {"field": "sample"}}},
        {"data": {"name": "info"}, "transform": [{"filter": "datum.p === 9"}],
         "mark": {"type": "text", "align": "right", "baseline": "top", "fontSize": 13.5, "lineHeight": 14.2},
         "encoding": {"x": {"datum": 10.75, "axis": null}, "y": {"datum": 116.1, "axis": null}, "text": {"field": "header"}}},
        {"data": {"name": "boxes"}, "transform": [{"filter": "datum.p === 9"}],
         "mark": {"type": "rect"},
         "encoding": {"x": {"field": "x1", "type": "quantitative", "axis": null}, "x2": {"field": "x2"}, "y": {"field": "y1", "type": "quantitative", "axis": null}, "y2": {"field": "y2"},
           "fill": {"field": "rng", "type": "nominal", "legend": null, "scale": {"domain": ["< 30","30-50","50-75",">75",">90"], "range": ["#ee1d23","#fff200","#8dc63f","#8dc63f","#8dc63f"]}}}},
        {"data": {"name": "boxes"}, "transform": [{"filter": "datum.p === 9"}],
         "mark": {"type": "text", "align": "left", "baseline": "middle", "fontSize": 17.5},
         "encoding": {"x": {"field": "tx", "type": "quantitative", "axis": null}, "y": {"field": "ym", "type": "quantitative", "axis": null}, "text": {"field": "rng"},
           "color": {"condition": {"test": "datum.rng === '< 30'", "value": "#ffffff"}, "value": "#231f20"}}}
      ]
    }
  ]
}
